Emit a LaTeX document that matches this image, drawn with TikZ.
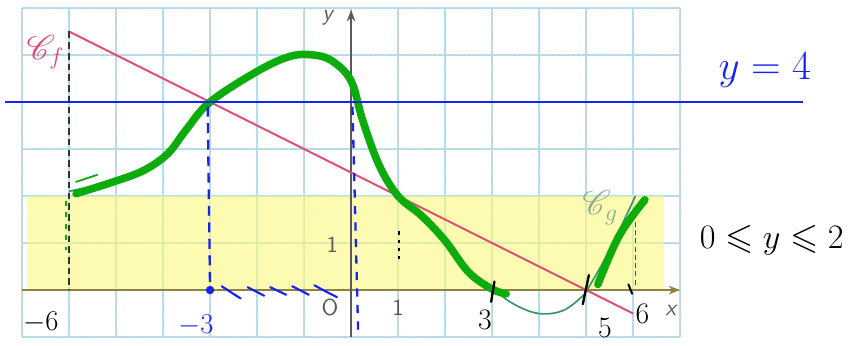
\documentclass[tikz,border=0pt]{standalone}
\usepackage{amsmath}
\usepackage{amssymb}
\usepackage{mathrsfs}
\usepackage{xcolor}
\usetikzlibrary{arrows.meta}
\definecolor{gridBlue}{RGB}{178,226,240}
\definecolor{bandYellow}{RGB}{250,248,125}
\definecolor{penBlue}{RGB}{25,35,240}
\definecolor{penGreen}{RGB}{12,172,12}
\definecolor{cgLine}{RGB}{55,150,105}
\definecolor{cgText}{RGB}{140,172,150}
\definecolor{cfLine}{RGB}{228,72,112}
\definecolor{axisGray}{RGB}{90,90,90}
\definecolor{axisOlive}{RGB}{140,132,60}

\begin{document}
\begin{tikzpicture}[x=1cm,y=1cm,
  penLabel/.style={font={\fontsize{18}{20}\selectfont}, inner sep=0pt},
  bookLabel/.style={font={\sffamily\fontsize{14}{16}\selectfont}, text=axisGray, inner sep=0pt},
  thickPen/.style={penGreen, line width=4.6pt, line cap=round, line join=round}]
\useasboundingbox (-7.468,-1.17) rectangle (10.72,6.17);
% grid and band
\draw[gridBlue, line width=0.9pt] (-7,-1) grid (7,6);
\draw[gray!40, line width=0.3pt, dash pattern=on 1.5pt off 1.5pt] (-7,-1) grid (7,6);
\fill[bandYellow, opacity=0.6] (-6.9,0) rectangle (6.65,2);
% axes
\draw[axisOlive, line width=1pt, -{Stealth[length=7pt]}] (-7,0) -- (7,0);
\draw[axisGray, line width=0.9pt, -{Stealth[length=7pt]}] (0,-1) -- (0,5.96);
% curve C_f
\draw[cfLine, line width=1.1pt] (-6,5.5) -- (6,-0.5);
\draw[black!80, line width=1.2pt, dash pattern=on 4pt off 2.5pt] (-6,5.5) -- (-6,0);
% curve C_g
\draw[cgLine, line width=1pt] plot[smooth, tension=0.6] coordinates {(-6,2.1) (-5,2.33) (-4.4,2.55) (-3.9,2.9) (-3.5,3.42) (-3,4) (-2,4.62) (-1.3,4.95) (-0.8,4.98) (-0.4,4.85) (0,4.45) (0.25,3.6) (0.6,2.65) (1,2) (1.5,1.58) (2,1.05) (2.5,0.38) (3,0.02) (3.5,-0.32) (4,-0.5) (4.5,-0.44) (4.9,-0.15) (5.05,0.05) (5.5,0.85) (6.05,2.0)};
\draw[thickPen] plot[smooth, tension=0.6] coordinates {(-5.85,2.05) (-5,2.32) (-4.4,2.55) (-3.9,2.9) (-3.5,3.42) (-3,4) (-2,4.65) (-1.3,4.97) (-0.8,5.0) (-0.4,4.87) (0,4.45) (0.25,3.6) (0.6,2.65) (1,2) (1.5,1.58) (2,1.05) (2.5,0.38) (3,0.02) (3.3,-0.08)};
\draw[thickPen] plot[smooth, tension=0.6] coordinates {(5.25,0.12) (5.7,1.15) (6.25,1.92)};
\draw[penGreen, line width=1.1pt, line cap=round] (-5.85,2.3) -- (-5.4,2.45);
\draw[penGreen, line width=1.1pt, dash pattern=on 3pt off 4pt] (-6.07,1.9) -- (-6.07,0.85);
% y = 4
\draw[penBlue, line width=1.6pt] (-7.36,4) -- (9.62,4);
\draw[penBlue, line width=1.4pt, dash pattern=on 6pt off 4pt] (-3.05,3.9) -- (-3,0.05);
\draw[penBlue, line width=1.4pt, dash pattern=on 5pt off 5pt] (0.03,3.9) -- (0.15,-0.85);
\fill[penBlue] (-3,0) circle (0.09);
\draw[penBlue, line width=1.3pt, line cap=round] (-2.75,0.08) -- (-2.35,-0.18);
\draw[penBlue, line width=1.3pt, line cap=round] (-2.2,0.06) -- (-1.85,-0.12);
\draw[penBlue, line width=1.3pt, line cap=round] (-1.72,0.06) -- (-1.38,-0.1);
\draw[penBlue, line width=1.3pt, line cap=round] (-1.25,0.08) -- (-0.9,-0.1);
\draw[penBlue, line width=1.3pt, line cap=round] (-0.78,0.1) -- (-0.5,-0.05) -- (-0.3,-0.15);
% marks on the x-axis
\draw[black, line width=1.4pt, line cap=round] (3.05,0.18) -- (2.98,-0.25);
\draw[black, line width=1.4pt, line cap=round] (5.06,0.32) -- (4.93,-0.3);
\draw[black, line width=1.2pt, line cap=round] (5.9,0.12) -- (5.98,-0.08);
\draw[black, line width=1.4pt, dash pattern=on 2pt off 3pt] (1.02,1.25) -- (1.02,0.6);
\draw[black!70, line width=1pt, dash pattern=on 3pt off 2pt] (6.05,1.45) -- (6.05,0.05);
% labels
\node[text=cfLine, font={\fontsize{20}{22}\selectfont}] (cfName) at (-6.5,5.05) {$\mathscr{C}_f$};
\node[text=cgText, font={\fontsize{20}{22}\selectfont}] (cgName) at (5.3,1.75) {$\mathscr{C}_g$};
\node[text=penBlue, font={\fontsize{28}{32}\selectfont}] (lineText) at (8.8,4.68) {$y=4$};
\node[font={\fontsize{22}{26}\selectfont}] (bandText) at (8.95,1.06) {$0\leqslant y\leqslant 2$};
\node[penLabel] (xMinus6) at (-6.6,-0.68) {$-6$};
\node[penLabel, text=penBlue] (xMinus3) at (-3.3,-0.75) {$-3$};
\node[penLabel] (xThree) at (2.85,-0.64) {3};
\node[penLabel] (xFive) at (5.4,-0.8) {5};
\node[penLabel] (xSix) at (6.2,-0.5) {6};
\node[bookLabel] (origin) at (-0.45,-0.38) {O};
\node[bookLabel] (xOne) at (1,-0.38) {1};
\node[bookLabel] (yOne) at (-0.4,0.97) {1};
\node[bookLabel, font={\sffamily\itshape\fontsize{14}{16}\selectfont}] (yName) at (-0.5,5.8) {y};
\node[bookLabel, font={\sffamily\itshape\fontsize{14}{16}\selectfont}] (xName) at (6.8,-0.43) {x};
\end{tikzpicture}
\end{document}
